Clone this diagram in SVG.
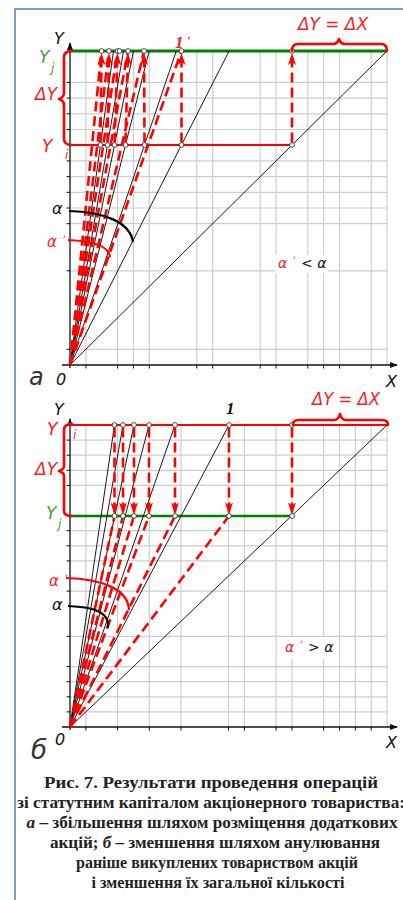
<svg xmlns="http://www.w3.org/2000/svg" width="403" height="900" viewBox="0 0 403 900">
<style>
.grid{stroke:#cdcdcd;stroke-width:1.2}
.ax{stroke:#111;stroke-width:1.3;fill:none}
.tk{stroke:#111;stroke-width:1}
.bl{stroke:#000;stroke-width:0.9;fill:none}
.rd{stroke:#ff0000;stroke-width:2.6;stroke-dasharray:10 5;fill:none}
.ra{stroke:#ff0000;stroke-width:2.6;stroke-dasharray:10 5;fill:none;marker-end:url(#ah)}
.pt{fill:#fff;stroke:#333;stroke-width:0.9}
.brace{stroke:#ff0000;stroke-width:2.6;fill:none;stroke-linejoin:round;stroke-linecap:round}
.lab{font-family:"DejaVu Sans","Liberation Sans",sans-serif;font-style:italic}
.red{fill:#ff1a1a}
.grn{fill:#4a9a3c}
.blk{fill:#111}
.cap{font-family:"Liberation Serif","Noto Sans",serif;font-weight:bold;font-size:16px;fill:#222;text-anchor:middle}
</style>
<defs>
<marker id="ah" markerUnits="userSpaceOnUse" viewBox="0 0 12 8" markerWidth="12" markerHeight="8" refX="11" refY="4" orient="auto">
<path d="M0,0 L12,4 L0,8 L3,4 z" fill="#ff0000"/>
</marker>
<marker id="axh" markerUnits="userSpaceOnUse" viewBox="0 0 8 6" markerWidth="8" markerHeight="6" refX="7" refY="3" orient="auto">
<path d="M0,0 L8,3 L0,6 z" fill="#111"/>
</marker>
</defs>
<rect x="0" y="0" width="403" height="900" fill="#fff"/>
<g id="frame" stroke="#4f7fcc" stroke-width="1.5" fill="none">
<path d="M15,900 L15,9 L403,9"/>
</g>

<!-- ===== TOP CHART (a) ===== -->
<g id="gridA">
<g class="grid">
<line x1="85.9" y1="51" x2="85.9" y2="365"/>
<line x1="117.6" y1="51" x2="117.6" y2="365"/>
<line x1="133.4" y1="51" x2="133.4" y2="365"/>
<line x1="149.3" y1="51" x2="149.3" y2="365"/>
<line x1="196.8" y1="51" x2="196.8" y2="365"/>
<line x1="212.7" y1="51" x2="212.7" y2="365"/>
<line x1="260.2" y1="51" x2="260.2" y2="365"/>
<line x1="276.1" y1="51" x2="276.1" y2="365"/>
<line x1="307.8" y1="51" x2="307.8" y2="365"/>
<line x1="323.6" y1="51" x2="323.6" y2="365"/>
<line x1="339.5" y1="51" x2="339.5" y2="365"/>
<line x1="371.2" y1="51" x2="371.2" y2="365"/>
<line x1="387" y1="51" x2="387" y2="365"/>
<line x1="70" y1="349.3" x2="387" y2="349.3"/>
<line x1="70" y1="270.8" x2="387" y2="270.8"/>
<line x1="70" y1="223.7" x2="387" y2="223.7"/>
<line x1="70" y1="208" x2="387" y2="208"/>
<line x1="70" y1="192.3" x2="387" y2="192.3"/>
<line x1="70" y1="176.6" x2="387" y2="176.6"/>
<line x1="70" y1="160.9" x2="387" y2="160.9"/>
<line x1="70" y1="129.5" x2="387" y2="129.5"/>
<line x1="70" y1="113.8" x2="387" y2="113.8"/>
<line x1="70" y1="98.1" x2="387" y2="98.1"/>
<line x1="70" y1="82.4" x2="387" y2="82.4"/>
</g>
<g class="tk">
<line x1="66.5" y1="349.3" x2="70" y2="349.3"/><line x1="66.5" y1="270.8" x2="70" y2="270.8"/>
<line x1="66.5" y1="223.7" x2="70" y2="223.7"/><line x1="66.5" y1="208" x2="70" y2="208"/>
<line x1="66.5" y1="192.3" x2="70" y2="192.3"/><line x1="66.5" y1="176.6" x2="70" y2="176.6"/>
<line x1="66.5" y1="160.9" x2="70" y2="160.9"/><line x1="66.5" y1="129.5" x2="70" y2="129.5"/>
<line x1="66.5" y1="113.8" x2="70" y2="113.8"/><line x1="66.5" y1="98.1" x2="70" y2="98.1"/>
<line x1="66.5" y1="82.4" x2="70" y2="82.4"/>
<line x1="85.9" y1="365" x2="85.9" y2="368.5"/><line x1="117.6" y1="365" x2="117.6" y2="368.5"/>
<line x1="133.4" y1="365" x2="133.4" y2="368.5"/><line x1="149.3" y1="365" x2="149.3" y2="368.5"/>
<line x1="196.8" y1="365" x2="196.8" y2="368.5"/><line x1="212.7" y1="365" x2="212.7" y2="368.5"/>
<line x1="260.2" y1="365" x2="260.2" y2="368.5"/><line x1="276.1" y1="365" x2="276.1" y2="368.5"/>
<line x1="307.8" y1="365" x2="307.8" y2="368.5"/><line x1="323.6" y1="365" x2="323.6" y2="368.5"/>
<line x1="339.5" y1="365" x2="339.5" y2="368.5"/><line x1="371.2" y1="365" x2="371.2" y2="368.5"/>
</g>
</g>
<g id="axesA">
<line class="ax" x1="70" y1="368" x2="70" y2="43" marker-end="url(#axh)"/>
<line class="ax" x1="62" y1="365" x2="397" y2="365" marker-end="url(#axh)"/>
</g>
<g id="levelsA">
<line x1="70" y1="145" x2="292" y2="145" stroke="#ff0000" stroke-width="2"/>
<line x1="70" y1="51" x2="387" y2="51" stroke="#008000" stroke-width="3"/>
</g>
<g id="connectorsA">
<g class="bl">
<line x1="70" y1="365" x2="113.5" y2="51"/>
<line x1="70" y1="365" x2="123.5" y2="51"/>
<line x1="70" y1="365" x2="133.5" y2="51"/>
<line x1="70" y1="365" x2="149.2" y2="51"/>
<line x1="70" y1="365" x2="176.3" y2="51"/>
<line x1="70" y1="365" x2="229.1" y2="51"/>
<line x1="70" y1="365" x2="387" y2="51"/>
</g>
<g>
<line class="rd" x1="70" y1="365" x2="101.5" y2="51"/>
<line class="rd" x1="70" y1="365" x2="109" y2="51"/>
<line class="rd" x1="70" y1="365" x2="117.5" y2="51"/>
<line class="rd" x1="70" y1="365" x2="128" y2="51"/>
<line class="rd" x1="70" y1="365" x2="144" y2="51"/>
<line class="rd" x1="70" y1="365" x2="181.5" y2="51"/>
</g>
<g>
<line class="ra" x1="100.5" y1="142.5" x2="101.5" y2="54"/>
<line class="ra" x1="107.5" y1="142.5" x2="109" y2="54"/>
<line class="ra" x1="114.5" y1="142.5" x2="117.5" y2="54"/>
<line class="ra" x1="125.5" y1="142.5" x2="128" y2="54"/>
<line class="ra" x1="144.5" y1="142.5" x2="144" y2="54"/>
<line class="ra" x1="181.5" y1="142.5" x2="181.5" y2="54"/>
<line class="ra" x1="292" y1="142.5" x2="292" y2="54"/>
</g>
</g>
<g id="pointsA" class="pt">
<circle cx="100.5" cy="145" r="2.4"/><circle cx="107.5" cy="145" r="2.4"/><circle cx="114.5" cy="145" r="2.4"/>
<circle cx="125.5" cy="145" r="2.4"/><circle cx="144.5" cy="145" r="2.4"/><circle cx="181.5" cy="145" r="2.4"/>
<circle cx="292" cy="145" r="2.4"/>
<circle cx="101.5" cy="51" r="2.4"/><circle cx="109" cy="51" r="2.4"/><circle cx="117.5" cy="51" r="2.4"/>
<circle cx="119.5" cy="51" r="2.4"/><circle cx="128" cy="51" r="2.4"/><circle cx="144" cy="51" r="2.4"/>
<circle cx="181.5" cy="51" r="2.4"/><circle cx="292" cy="51" r="2.4"/>
</g>
<g id="bracesA">
<path class="brace" d="M72,51 C67,51 64,53 64,57 L64,93 C64,96 62,98 59,99 C62,100 64,102 64,105 L64,139 C64,143 67,145 72,145"/>
<path class="brace" d="M292,51 C292,46 294,44 298,44 L333,44 C336,44 338,42 339,39 C340,42 342,44 345,44 L381,44 C385,44 387,47 387,51"/>
</g>
<g id="anglesA">
<path d="M69,211 C104,212 130,222 133,242" stroke="#000" stroke-width="2.2" fill="none"/>
<path d="M68,240 C92,241 109,246 110,257" stroke="#ff0000" stroke-width="2.2" fill="none"/>
<rect x="275" y="255" width="53" height="18" fill="#fff"/>
<text class="lab red" x="278" y="268" font-size="14">α <tspan font-size="11" dy="-3">ʹ</tspan></text>
<text class="lab blk" x="301" y="268" font-size="14">&lt; α</text>
</g>
<g id="labelsA">
<text class="lab blk" x="54" y="44" font-size="16">Y</text>
<text class="lab grn" x="39" y="63" font-size="17">Y</text>
<text class="lab grn" x="51" y="72" font-size="12">j</text>
<text class="lab red" x="35" y="100" font-size="17">ΔY</text>
<text class="lab red" x="42" y="152" font-size="17">Y</text>
<text class="lab red" x="65" y="159" font-size="12">i</text>
<text class="lab blk" x="52" y="214" font-size="16">α</text>
<text class="lab red" x="47" y="247" font-size="15">α <tspan font-size="11" dy="-3">ʹ</tspan></text>
<text x="175" y="48" font-family="Liberation Serif,serif" font-style="italic" font-weight="bold" font-size="17" fill="#ff1a1a">1<tspan font-size="13" dx="3" dy="-3">ʹ</tspan></text>
<text class="lab red" x="298" y="30" font-size="17" textLength="70" lengthAdjust="spacingAndGlyphs">ΔY = ΔX</text>
<text class="lab blk" x="386" y="387" font-size="16">X</text>
<text class="lab blk" x="56" y="385" font-size="16">0</text>
<text class="lab" x="29" y="385" font-size="24" fill="#333">а</text>
</g>

<!-- ===== BOTTOM CHART (b) ===== -->
<g id="gridB">
<g class="grid">
<line x1="85.9" y1="425" x2="85.9" y2="727"/>
<line x1="117.6" y1="425" x2="117.6" y2="727"/>
<line x1="149.3" y1="425" x2="149.3" y2="727"/>
<line x1="181" y1="425" x2="181" y2="727"/>
<line x1="228.5" y1="425" x2="228.5" y2="727"/>
<line x1="244.4" y1="425" x2="244.4" y2="727"/>
<line x1="276.1" y1="425" x2="276.1" y2="727"/>
<line x1="291.9" y1="425" x2="291.9" y2="727"/>
<line x1="323.6" y1="425" x2="323.6" y2="727"/>
<line x1="339.5" y1="425" x2="339.5" y2="727"/>
<line x1="355.3" y1="425" x2="355.3" y2="727"/>
<line x1="371.2" y1="425" x2="371.2" y2="727"/>
<line x1="387" y1="425" x2="387" y2="727"/>
<line x1="70" y1="711.9" x2="387" y2="711.9"/>
<line x1="70" y1="696.8" x2="387" y2="696.8"/>
<line x1="70" y1="681.7" x2="387" y2="681.7"/>
<line x1="70" y1="666.6" x2="387" y2="666.6"/>
<line x1="70" y1="636.4" x2="387" y2="636.4"/>
<line x1="70" y1="591.1" x2="387" y2="591.1"/>
<line x1="70" y1="560.9" x2="387" y2="560.9"/>
<line x1="70" y1="545.8" x2="387" y2="545.8"/>
<line x1="70" y1="530.7" x2="387" y2="530.7"/>
<line x1="70" y1="485.4" x2="387" y2="485.4"/>
<line x1="70" y1="470.3" x2="387" y2="470.3"/>
<line x1="70" y1="455.2" x2="387" y2="455.2"/>
<line x1="70" y1="440.1" x2="387" y2="440.1"/>
</g>
<g class="tk">
<line x1="66.5" y1="711.9" x2="70" y2="711.9"/><line x1="66.5" y1="696.8" x2="70" y2="696.8"/>
<line x1="66.5" y1="681.7" x2="70" y2="681.7"/><line x1="66.5" y1="666.6" x2="70" y2="666.6"/>
<line x1="66.5" y1="636.4" x2="70" y2="636.4"/><line x1="66.5" y1="591.1" x2="70" y2="591.1"/>
<line x1="66.5" y1="560.9" x2="70" y2="560.9"/><line x1="66.5" y1="545.8" x2="70" y2="545.8"/>
<line x1="66.5" y1="530.7" x2="70" y2="530.7"/><line x1="66.5" y1="485.4" x2="70" y2="485.4"/>
<line x1="66.5" y1="470.3" x2="70" y2="470.3"/><line x1="66.5" y1="455.2" x2="70" y2="455.2"/>
<line x1="66.5" y1="440.1" x2="70" y2="440.1"/>
<line x1="85.9" y1="727" x2="85.9" y2="730.5"/><line x1="117.6" y1="727" x2="117.6" y2="730.5"/>
<line x1="149.3" y1="727" x2="149.3" y2="730.5"/><line x1="181" y1="727" x2="181" y2="730.5"/>
<line x1="228.5" y1="727" x2="228.5" y2="730.5"/><line x1="244.4" y1="727" x2="244.4" y2="730.5"/>
<line x1="276.1" y1="727" x2="276.1" y2="730.5"/><line x1="291.9" y1="727" x2="291.9" y2="730.5"/>
<line x1="323.6" y1="727" x2="323.6" y2="730.5"/><line x1="339.5" y1="727" x2="339.5" y2="730.5"/>
<line x1="355.3" y1="727" x2="355.3" y2="730.5"/><line x1="371.2" y1="727" x2="371.2" y2="730.5"/>
</g>
</g>
<g id="axesB">
<line class="ax" x1="70" y1="730" x2="70" y2="419" marker-end="url(#axh)"/>
<line class="ax" x1="62" y1="727" x2="397" y2="727" marker-end="url(#axh)"/>
</g>
<g id="levelsB">
<line x1="70" y1="516" x2="292" y2="516" stroke="#008000" stroke-width="2.5"/>
<line x1="70" y1="425" x2="387" y2="425" stroke="#ff0000" stroke-width="2.2"/>
</g>
<g id="connectorsB">
<g class="bl">
<line x1="70" y1="727" x2="114.5" y2="425"/>
<line x1="70" y1="727" x2="123" y2="425"/>
<line x1="70" y1="727" x2="134" y2="425"/>
<line x1="70" y1="727" x2="149" y2="425"/>
<line x1="70" y1="727" x2="175" y2="425"/>
<line x1="70" y1="727" x2="229" y2="425"/>
<line x1="70" y1="727" x2="387" y2="425"/>
</g>
<g>
<line class="rd" x1="70" y1="727" x2="114.5" y2="516"/>
<line class="rd" x1="70" y1="727" x2="123" y2="516"/>
<line class="rd" x1="70" y1="727" x2="134" y2="516"/>
<line class="rd" x1="70" y1="727" x2="149" y2="516"/>
<line class="rd" x1="70" y1="727" x2="175" y2="516"/>
<line class="rd" x1="70" y1="727" x2="229" y2="516"/>
</g>
<g>
<line class="ra" x1="114.5" y1="427.5" x2="114.5" y2="513.5"/>
<line class="ra" x1="123" y1="427.5" x2="123" y2="513.5"/>
<line class="ra" x1="134" y1="427.5" x2="134" y2="513.5"/>
<line class="ra" x1="149" y1="427.5" x2="149" y2="513.5"/>
<line class="ra" x1="175" y1="427.5" x2="175" y2="513.5"/>
<line class="ra" x1="229" y1="427.5" x2="229" y2="513.5"/>
<line class="ra" x1="292" y1="427.5" x2="292" y2="513.5"/>
</g>
</g>
<g id="pointsB" class="pt">
<circle cx="114.5" cy="425" r="2.4"/><circle cx="123" cy="425" r="2.4"/><circle cx="134" cy="425" r="2.4"/>
<circle cx="149" cy="425" r="2.4"/><circle cx="175" cy="425" r="2.4"/><circle cx="229" cy="425" r="2.4"/>
<circle cx="292" cy="425" r="2.4"/>
<circle cx="114.5" cy="516" r="2.4"/><circle cx="123" cy="516" r="2.4"/><circle cx="134" cy="516" r="2.4"/>
<circle cx="149" cy="516" r="2.4"/><circle cx="175" cy="516" r="2.4"/><circle cx="229" cy="516" r="2.4"/>
<circle cx="292" cy="516" r="2.4"/>
</g>
<g id="bracesB">
<path class="brace" d="M72,424 C67,424 64,426 64,430 L64,466 C64,469 62,470 59,471 C62,472 64,473 64,476 L64,511 C64,514 67,516 72,516"/>
<path class="brace" d="M293,425 C293,421 295,420 299,420 L334,420 C337,420 339,418 340,414 C341,418 343,420 346,420 L382,420 C386,420 388,422 388,425"/>
</g>
<g id="anglesB">
<path d="M66,578 C100,579 128,588 129,610" stroke="#ff0000" stroke-width="2.2" fill="none"/>
<path d="M68,606 C96,607 110,613 108,628" stroke="#000" stroke-width="2.2" fill="none"/>
<rect x="282" y="637" width="53" height="22" fill="#fff"/>
<text class="lab red" x="285" y="652" font-size="14">α <tspan font-size="11" dy="-3">ʹ</tspan></text>
<text class="lab blk" x="308" y="652" font-size="14">&gt; α</text>
</g>
<g id="labelsB">
<text class="lab blk" x="54" y="415" font-size="16">Y</text>
<text class="lab red" x="47" y="435" font-size="17">Y</text>
<text class="lab red" x="73" y="439" font-size="12">i</text>
<text class="lab red" x="35" y="475" font-size="17">ΔY</text>
<text class="lab grn" x="46" y="519" font-size="17">Y</text>
<text class="lab grn" x="58" y="528" font-size="12">j</text>
<text class="lab red" x="49" y="586" font-size="15">α <tspan font-size="11" dy="-3">ʹ</tspan></text>
<text class="lab blk" x="52" y="610" font-size="16">α</text>
<text x="226" y="414" font-family="Liberation Serif,serif" font-style="italic" font-weight="bold" font-size="17" fill="#111">1</text>
<text class="lab red" x="312" y="405" font-size="17" textLength="68" lengthAdjust="spacingAndGlyphs">ΔY = ΔX</text>
<text class="lab blk" x="386" y="748" font-size="16">X</text>
<text class="lab blk" x="55" y="745" font-size="16">0</text>
<text class="lab" x="31" y="759" font-size="26" fill="#333">б</text>
</g>

<g id="caption">
<text class="cap" x="211" y="788" textLength="334" lengthAdjust="spacingAndGlyphs">Рис. 7. Результати проведення операцій</text>
<text class="cap" x="211" y="808" textLength="388" lengthAdjust="spacingAndGlyphs">зі статутним капіталом акціонерного товариства:</text>
<text class="cap" x="212" y="828" textLength="371" lengthAdjust="spacingAndGlyphs"><tspan font-style="italic">а</tspan> – збільшення шляхом розміщення додаткових</text>
<text class="cap" x="215" y="848" textLength="330" lengthAdjust="spacingAndGlyphs">акцій; <tspan font-style="italic">б</tspan> – зменшення шляхом анулювання</text>
<text class="cap" x="217" y="868" textLength="282" lengthAdjust="spacingAndGlyphs">раніше викуплених товариством акцій</text>
<text class="cap" x="218" y="888" textLength="253" lengthAdjust="spacingAndGlyphs">і зменшення їх загальної кількості</text>
</g>
</svg>
